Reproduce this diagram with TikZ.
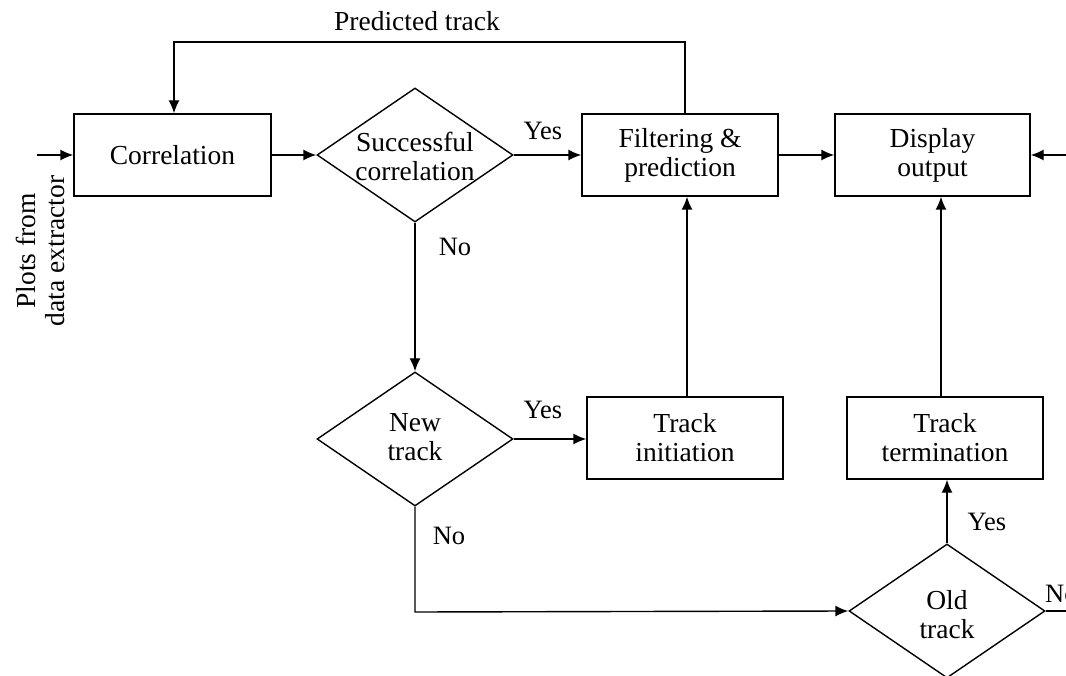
\documentclass[tikz,border=0pt]{standalone}
\usepackage{fontspec}
\setmainfont{Liberation Serif}
\usetikzlibrary{shapes.geometric,arrows.meta}
\begin{document}
\begin{tikzpicture}[x=1pt,y=-1pt,
  every node/.style={font=\fontsize{27.5}{29}\selectfont},
  line/.style={line width=1.4pt},
  arr/.style={line width=1.4pt,-{Latex[length=13pt,width=11pt]}},
  box/.style={draw,line width=1.4pt,rectangle,inner sep=0pt,align=center},
  dia/.style={draw,line width=1.4pt,diamond,inner sep=0pt,minimum width=196pt,minimum height=134pt},
  lab/.style={inner sep=0pt,align=center},
  yn/.style={inner sep=0pt,font=\fontsize{26.5}{28}\selectfont}]
\useasboundingbox (0,0) rectangle (1066,676);
\clip (0,0) rectangle (1066,676);
% boxes
\node[box,minimum width=197pt,minimum height=82pt] (corr) at (172.5,155) {Correlation};
\node[box,minimum width=196pt,minimum height=82pt] (filt) at (680,155) {Filtering \&\\prediction};
\node[box,minimum width=195pt,minimum height=82pt] (disp) at (932.5,155) {Display\\output};
\node[box,minimum width=196pt,minimum height=82pt] (init) at (685,438) {Track\\initiation};
\node[box,minimum width=196pt,minimum height=82pt] (term) at (945,438) {Track\\termination};
% diamonds
\node[dia] (succ) at (415,155) {};
\node[lab] (succt) at (415,156) {Successful\\correlation};
\node[dia] (newt) at (415,439) {};
\node[lab] (newtt) at (415,437) {New\\track};
\node[dia] (oldt) at (947,611) {};
\node[lab] (oldtt) at (947,615) {Old\\track};
% free ends
\coordinate (inL) at (37,155);
\coordinate (inR) at (1066,155);
\coordinate (outR) at (1066,611);
\coordinate (ptTop) at (685,42);
\coordinate (ptLeft) at (174,42);
\coordinate (nbend) at (415,612);
% connectors
\draw[arr] (inL) -- (corr.west);
\draw[arr] (corr.east) -- (succ.west);
\draw[arr] (succ.east) -- (filt.west |- succ.east);
\draw[arr] (filt.east) -- (disp.west);
\draw[arr] (inR) -- (disp.east);
\draw[arr] (filt.north -| ptTop) -- (ptTop) -- (ptLeft) -- (ptLeft |- corr.north);
\draw[arr] (succ.south) -- (newt.north);
\draw[arr] (newt.east) -- (newt.east -| init.west);
\draw[arr] (init.north -| 687,0) -- (filt.south -| 687,0);
\draw[arr] (newt.south) -- (nbend) -- (oldt.west);
\draw[arr] (oldt.north) -- (term.south -| oldt.north);
\draw[arr] (term.north -| 941,0) -- (disp.south -| 941,0);
\draw[line] (oldt.east) -- (outR);
% labels
\node[lab] (pt) at (417,21) {Predicted track};
\node[yn] (y1) at (543,131) {Yes};
\node[yn] (n1) at (455,247) {No};
\node[yn] (y2) at (543,410) {Yes};
\node[yn] (n2) at (449,536) {No};
\node[yn] (y3) at (987,522) {Yes};
\node[yn,anchor=base west] (n3) at (1045,602) {No};
\node[lab,rotate=90] (plots) at (40,251) {Plots from\\data extractor};
\end{tikzpicture}
\end{document}
